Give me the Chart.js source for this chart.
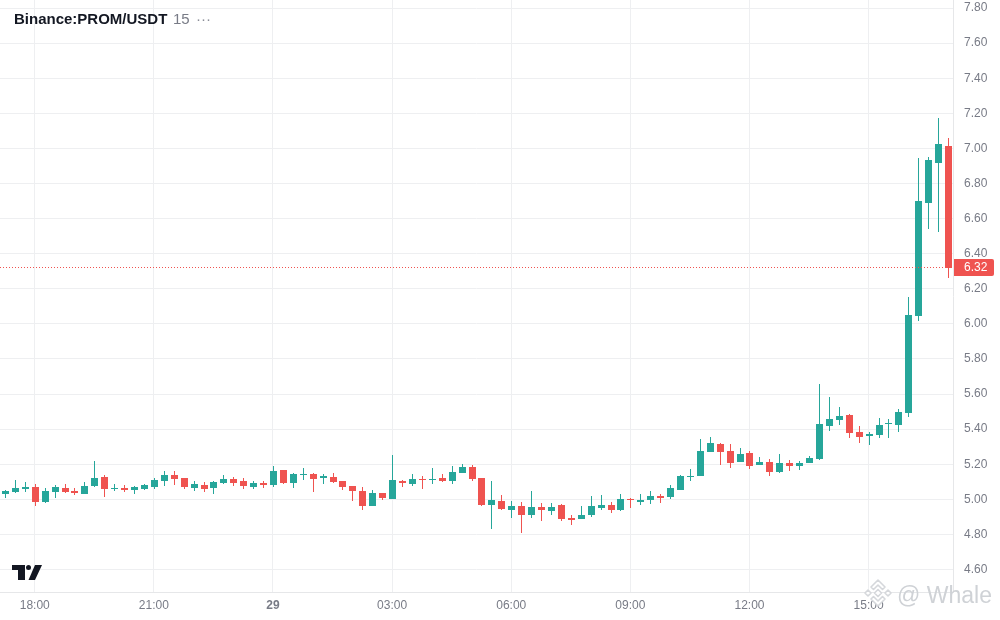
<!DOCTYPE html>
<html>
<head>
<meta charset="utf-8">
<title>Binance:PROM/USDT</title>
<script src="https://cdn.jsdelivr.net/npm/chart.js@4"></script>
<style>
html, body { margin: 0; padding: 0; background: #fff; }
body { width: 1000px; height: 620px; position: relative; overflow: hidden; font-family: "Liberation Sans", Arial, sans-serif; }
canvas { position: absolute; left: 0; top: 0; }
#symbol { position: absolute; left: 14px; top: 10px; font-size: 15px; font-weight: bold; color: #131722; line-height: 18px; white-space: nowrap; }
#interval { position: absolute; left: 173px; top: 10px; font-size: 15px; color: #787b86; line-height: 18px; }
#dots { position: absolute; left: 196px; top: 10px; font-size: 15px; color: #8a8d97; line-height: 18px; }
#tvlogo { position: absolute; left: 0; top: 550px; }
#mark { position: absolute; left: 863px; top: 578px; }
#whale { position: absolute; left: 897px; top: 581px; font-size: 23px; line-height: 28px; color: #cfd2d6; white-space: nowrap; }
</style>
</head>
<body>
<canvas id="velas" width="1000" height="620"></canvas>
<div id="symbol">Binance:PROM/USDT</div>
<div id="interval">15</div>
<div id="dots">···</div>
<svg id="tvlogo" width="50" height="40" viewBox="0 0 50 40">
  <path d="M12 15H25V30H18V20H12Z" fill="#131722"/>
  <circle cx="28.5" cy="17.5" r="2.5" fill="#131722"/>
  <path d="M35 15H42L35 30H28.5Z" fill="#131722"/>
</svg>
<svg id="mark" width="30" height="30" viewBox="0 0 30 30">
  <g fill="#fff" stroke="#d5d7db" stroke-width="1.6" stroke-linejoin="round">
    <path d="M15 2L22 9L19.5 11.5L15 7L10.5 11.5L8 9Z"/>
    <path d="M15 28L22 21L19.5 18.5L15 23L10.5 18.5L8 21Z"/>
    <path d="M5 12L8 15L5 18L2 15Z"/>
    <path d="M25 12L28 15L25 18L22 15Z"/>
    <path d="M15 11.5L18.5 15L15 18.5L11.5 15Z"/>
  </g>
</svg>
<div id="whale">@ Whale</div>

<script>
/* DATOS */
const categories = [
  '17:15','17:30','17:45','18:00','18:15','18:30','18:45','19:00','19:15','19:30','19:45','20:00',
  '20:15','20:30','20:45','21:00','21:15','21:30','21:45','22:00','22:15','22:30','22:45','23:00',
  '23:15','23:30','23:45','29','00:15','00:30','00:45','01:00','01:15','01:30','01:45','02:00',
  '02:15','02:30','02:45','03:00','03:15','03:30','03:45','04:00','04:15','04:30','04:45','05:00',
  '05:15','05:30','05:45','06:00','06:15','06:30','06:45','07:00','07:15','07:30','07:45','08:00',
  '08:15','08:30','08:45','09:00','09:15','09:30','09:45','10:00','10:15','10:30','10:45','11:00',
  '11:15','11:30','11:45','12:00','12:15','12:30','12:45','13:00','13:15','13:30','13:45','14:00',
  '14:15','14:30','14:45','15:00','15:15','15:30','15:45','16:00','16:15','16:30','16:45','17:00'
];

const opens = [
  5.031,5.042,5.059,5.071,4.985,5.042,5.065,5.048,5.031,5.076,5.128,5.057,
  5.065,5.054,5.059,5.071,5.105,5.139,5.122,5.065,5.082,5.065,5.093,5.116,
  5.105,5.071,5.093,5.082,5.168,5.093,5.139,5.145,5.122,5.128,5.105,5.076,
  5.048,4.962,5.036,5.002,5.105,5.088,5.116,5.111,5.122,5.105,5.150,5.185,
  5.122,4.968,4.991,4.940,4.962,4.911,4.957,4.934,4.968,4.894,4.888,4.911,
  4.951,4.968,4.940,5.000,4.985,4.997,5.019,5.014,5.054,5.128,5.133,5.270,
  5.316,5.276,5.213,5.264,5.196,5.213,5.156,5.207,5.190,5.207,5.230,5.418,
  5.452,5.481,5.384,5.361,5.367,5.430,5.424,5.492,6.045,6.689,6.917,7.014
];
const highs = [
  5.054,5.111,5.099,5.088,5.065,5.082,5.088,5.065,5.099,5.219,5.139,5.088,
  5.082,5.076,5.088,5.122,5.162,5.162,5.122,5.105,5.099,5.105,5.139,5.128,
  5.122,5.105,5.105,5.190,5.168,5.150,5.179,5.150,5.145,5.150,5.105,5.076,
  5.071,5.054,5.036,5.253,5.111,5.145,5.133,5.179,5.145,5.190,5.202,5.196,
  5.122,5.105,5.025,4.991,4.985,5.048,4.979,4.979,4.974,4.911,4.962,5.019,
  5.025,4.985,5.031,5.008,5.031,5.048,5.031,5.082,5.139,5.173,5.344,5.356,
  5.321,5.316,5.293,5.276,5.242,5.230,5.259,5.224,5.219,5.247,5.658,5.583,
  5.526,5.487,5.418,5.384,5.464,5.458,5.515,6.153,6.945,6.951,7.173,7.059
];
const lows = [
  5.010,5.036,5.042,4.962,4.979,5.008,5.036,5.025,5.031,5.071,5.014,5.048,
  5.042,5.031,5.054,5.059,5.076,5.082,5.059,5.048,5.042,5.031,5.088,5.076,
  5.059,5.059,5.065,5.071,5.088,5.065,5.111,5.042,5.088,5.093,5.054,4.991,
  4.940,4.962,4.997,5.002,5.071,5.076,5.059,5.088,5.099,5.088,5.150,5.105,
  4.962,4.831,4.940,4.894,4.809,4.894,4.877,4.911,4.877,4.854,4.888,4.900,
  4.940,4.923,4.934,4.951,4.968,4.974,4.979,5.002,5.054,5.105,5.133,5.270,
  5.196,5.179,5.213,5.173,5.196,5.133,5.150,5.162,5.168,5.207,5.224,5.390,
  5.424,5.350,5.321,5.310,5.350,5.350,5.384,5.470,6.017,6.541,6.524,6.263
];
const closes = [
  5.048,5.065,5.071,4.985,5.048,5.071,5.042,5.036,5.076,5.122,5.059,5.065,
  5.054,5.071,5.082,5.111,5.139,5.116,5.071,5.088,5.059,5.099,5.116,5.093,
  5.076,5.093,5.082,5.162,5.093,5.145,5.145,5.116,5.133,5.099,5.071,5.048,
  4.962,5.036,5.008,5.111,5.093,5.116,5.111,5.116,5.105,5.156,5.185,5.116,
  4.968,4.997,4.945,4.962,4.911,4.957,4.940,4.957,4.888,4.883,4.911,4.962,
  4.968,4.940,5.002,4.995,4.997,5.019,5.008,5.065,5.133,5.133,5.276,5.321,
  5.270,5.207,5.259,5.190,5.213,5.156,5.207,5.190,5.207,5.236,5.430,5.458,
  5.475,5.378,5.356,5.373,5.424,5.435,5.498,6.051,6.700,6.934,7.025,6.32
];

const yTicks = [4.6,4.8,5.0,5.2,5.4,5.6,5.8,6.0,6.2,6.4,6.6,6.8,7.0,7.2,7.4,7.6,7.8];
const xTicks = ['18:00','21:00','29','03:00','06:00','09:00','12:00','15:00'];
const lastPrice = 6.32;

const UP = '#26a69a';
const DOWN = '#ef5350';
const GRID = '#eeeff1';
const AXIS = '#e6e7e9';
const TEXT = '#787b86';
const FONT = '"Liberation Sans", Arial, sans-serif';

const candleColors = closes.map((c, i) => c >= opens[i] ? UP : DOWN);

/* VELAS NITIDAS: ajusta las barras al pixel */
const snapPlugin = {
  id: 'snap',
  afterDatasetsUpdate(chart) {
    chart.data.datasets.forEach((d, n) => {
      chart.getDatasetMeta(n).data.forEach(el => {
        el.x = Math.floor(el.x + 0.5) + 0.5;
        el.y = Math.round(el.y);
        el.base = Math.round(el.base);
        if (Math.abs(el.base - el.y) < 1) el.base = el.y + 1;
      });
    });
  }
};

/* LINEA Y ETIQUETA DEL ULTIMO PRECIO */
const lastPricePlugin = {
  id: 'lastPrice',
  afterDatasetsDraw(chart) {
    const c = chart.ctx;
    const area = chart.chartArea;
    const y = Math.floor(chart.scales.y.getPixelForValue(lastPrice)) + 0.5;
    c.save();
    c.strokeStyle = DOWN;
    c.lineWidth = 1;
    c.setLineDash([1, 2]);
    c.beginPath();
    c.moveTo(0, y);
    c.lineTo(area.right, y);
    c.stroke();
    c.setLineDash([]);
    c.fillStyle = DOWN;
    c.beginPath();
    c.roundRect(area.right + 1, y - 8.5, 40, 17, [0, 2, 2, 0]);
    c.fill();
    c.fillStyle = '#fff';
    c.font = '12px ' + FONT;
    c.textBaseline = 'middle';
    c.fillText(lastPrice.toFixed(2), area.right + 11, y + 0.5);
    c.restore();
  }
};

/* GRAFICA DE VELAS */
new Chart(document.getElementById('velas'), {
  type: 'bar',
  data: {
    labels: categories,
    datasets: [
      {
        label: 'Mechas',
        data: highs.map((h, i) => [lows[i], h]),
        backgroundColor: candleColors,
        barThickness: 1,
        grouped: false,
        inflateAmount: 0,
        borderSkipped: false
      },
      {
        label: 'Cuerpos',
        data: opens.map((o, i) => [o, closes[i]]),
        backgroundColor: candleColors,
        barThickness: 7,
        grouped: false,
        inflateAmount: 0,
        borderSkipped: false
      }
    ]
  },
  options: {
    responsive: false,
    animation: false,
    devicePixelRatio: 1,
    layout: { padding: { left: -1, right: 1, top: 0, bottom: 0 } },
    plugins: {
      legend: { display: false },
      tooltip: { enabled: false },
      title: { display: false }
    },
    scales: {
      x: {
        type: 'category',
        offset: true,
        afterBuildTicks(scale) {
          scale.ticks = scale.ticks.filter(t => xTicks.includes(scale.getLabelForValue(t.value)));
        },
        afterFit(scale) {
          scale.height = 28;
          scale.paddingLeft = 0;
          scale.paddingRight = 0;
        },
        grid: { offset: false, color: GRID, drawTicks: false },
        border: { display: true, color: AXIS },
        ticks: {
          autoSkip: false,
          maxRotation: 0,
          padding: 6,
          color: TEXT,
          font: ctx => ({
            family: FONT,
            size: 12,
            weight: ctx.tick && ctx.tick.label === '29' ? 'bold' : 'normal'
          })
        }
      },
      y: {
        position: 'right',
        min: 4.472,
        max: 7.846,
        afterBuildTicks(scale) {
          scale.ticks = yTicks.map(v => ({ value: v }));
        },
        afterFit(scale) {
          scale.width = 46;
          scale.paddingTop = 0;
          scale.paddingBottom = 0;
        },
        grid: { color: GRID, drawTicks: false },
        border: { display: true, color: AXIS },
        ticks: {
          padding: 11,
          color: TEXT,
          font: { family: FONT, size: 12 },
          callback: v => v.toFixed(2)
        }
      }
    }
  },
  plugins: [snapPlugin, lastPricePlugin]
});
</script>
</body>
</html>
